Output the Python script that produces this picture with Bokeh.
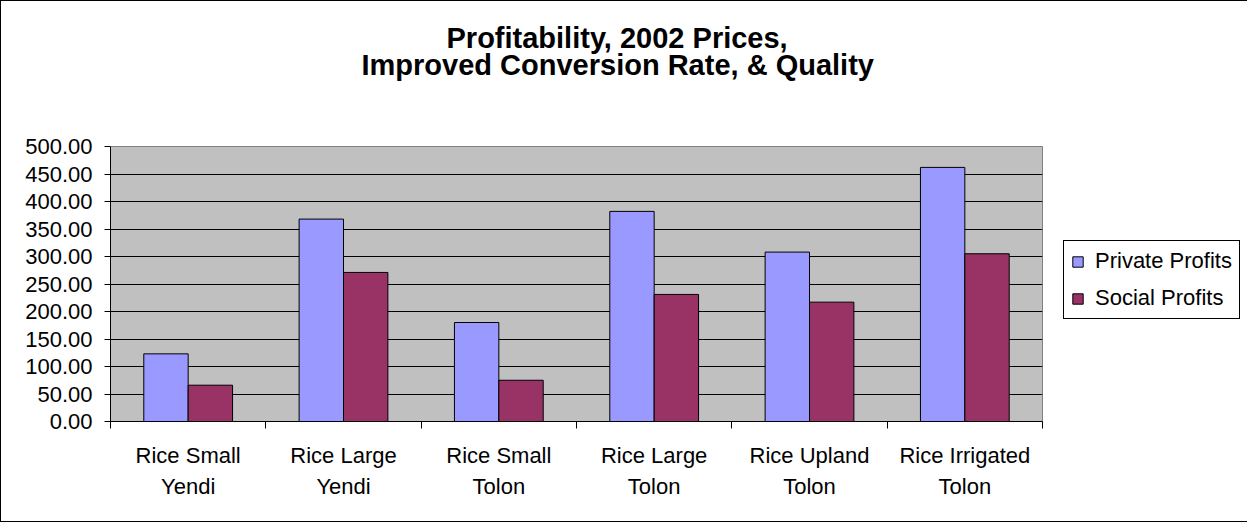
from bokeh.plotting import figure
from bokeh.models import (Range1d, FixedTicker, NumeralTickFormatter, Legend, LegendItem, Title)
from bokeh.embed import file_html
from bokeh.resources import INLINE
import numpy as np

categories = ["Rice Small\nYendi", "Rice Large\nYendi", "Rice Small\nTolon",
              "Rice Large\nTolon", "Rice Upland\nTolon", "Rice Irrigated\nTolon"]
private_profits = [123, 368, 180, 382, 308, 462]
social_profits = [66, 271, 75, 231, 217, 305]
y_ticks = [0, 50, 100, 150, 200, 250, 300, 350, 400, 450, 500]
title_lines = ["Profitability, 2002 Prices,", "Improved Conversion Rate, & Quality"]
series_names = ["Private Profits", "Social Profits"]
colors = ["#9999FF", "#993366"]

FONT = "Liberation Sans"

W, H = 1245, 520
left, right, top, bottom = 109, 1041, 145, 420

p = figure(frame_width=right - left, frame_height=bottom - top,
           output_backend="svg", toolbar_location=None,
           x_range=Range1d(0, len(categories)), y_range=Range1d(0, 500),
           min_border_left=left, min_border_right=W - right,
           min_border_top=top, min_border_bottom=H - bottom, title=None)
p.styles = {"border": "1px solid black"}
p.background_fill_color = "#C0C0C0"
p.border_fill_color = "white"
p.outline_line_color = "#808080"
p.outline_line_width = 1

idx = np.arange(len(categories))
bw = 2.0 / 7.0
r1 = p.vbar(x=idx + 0.5 - bw / 2, top=private_profits, width=bw,
            fill_color=colors[0], line_color="black", line_width=1)
r2 = p.vbar(x=idx + 0.5 + bw / 2, top=social_profits, width=bw,
            fill_color=colors[1], line_color="black", line_width=1)

# y axis
p.yaxis.ticker = FixedTicker(ticks=y_ticks)
p.yaxis.formatter = NumeralTickFormatter(format="0.00")
p.yaxis.major_label_text_font = FONT
p.yaxis.major_label_text_font_size = "22px"
p.yaxis.major_label_text_color = "black"
p.yaxis.major_tick_out = 6
p.yaxis.major_tick_in = 0
p.yaxis.minor_tick_out = 0
p.yaxis.minor_tick_in = 0
p.yaxis.major_label_standoff = 12
p.yaxis.axis_line_color = "black"
p.yaxis.major_tick_line_color = "black"

# x axis: labels at centers, tick marks at category boundaries
centers = [i + 0.5 for i in range(len(categories))]
p.xaxis.ticker = FixedTicker(ticks=centers, minor_ticks=list(range(len(categories) + 1)))
p.xaxis.major_label_overrides = {c: lab for c, lab in zip(centers, categories)}
p.xaxis.major_tick_out = 0
p.xaxis.major_tick_in = 0
p.xaxis.minor_tick_out = 7
p.xaxis.minor_tick_in = 0
p.xaxis.minor_tick_line_color = "black"
p.xaxis.axis_line_color = "black"
p.xaxis.major_label_text_font = FONT
p.xaxis.major_label_text_font_size = "22px"
p.xaxis.major_label_text_color = "black"
p.xaxis.major_label_text_line_height = 1.24
p.xaxis.major_label_standoff = 14

p.xgrid.visible = False
p.ygrid.ticker = FixedTicker(ticks=y_ticks[1:-1])
p.ygrid.grid_line_color = "black"
p.ygrid.grid_line_width = 1

# legend in right panel
legend = Legend(items=[LegendItem(label=series_names[0], renderers=[r1]),
                       LegendItem(label=series_names[1], renderers=[r2])],
                location=(21, 102))
legend.label_text_font = FONT
legend.label_text_font_size = "22px"
legend.label_text_color = "black"
legend.glyph_width = 13
legend.glyph_height = 13
legend.label_standoff = 11
legend.padding = 7
legend.spacing = 11
legend.margin = 0
legend.border_line_color = "black"
legend.border_line_alpha = 1
legend.border_line_width = 1
legend.background_fill_color = "white"
legend.background_fill_alpha = 1
p.add_layout(legend, "right")

# spacer between frame and title (blank title)
p.add_layout(Title(text=" ", standoff=32, text_font=FONT, text_font_size="29px"), "above")
# title: two lines, second line nearest the frame
for line, off, so in zip(reversed(title_lines), [251, 336], [0, -14]):
    p.add_layout(Title(text=line, align="left", offset=off, standoff=so,
                       text_font=FONT, text_font_size="29px",
                       text_font_style="bold", text_color="black"), "above")

open("out.html", "w").write(file_html(p, INLINE))
